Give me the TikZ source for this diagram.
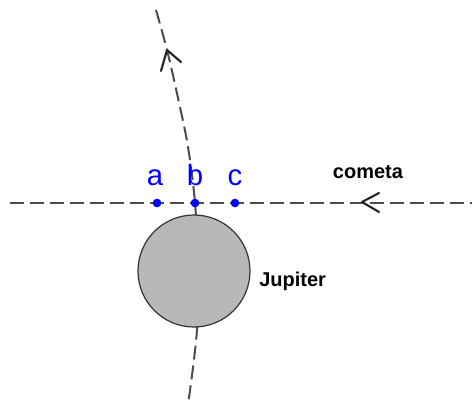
\documentclass[tikz,border=0pt]{standalone}
\usepackage{fontspec}
\setmainfont{Liberation Sans}
\begin{document}
\begin{tikzpicture}[x=0.75pt,y=-0.75pt,
  orbit/.style={draw=black!70,line width=1.5pt,dash pattern=on 10.5pt off 4.5pt},
  chev/.style={draw=black!85,line width=1.6pt,line cap=round,line join=round},
  dotpt/.style={circle,fill=blue,inner sep=0pt,minimum size=6.5pt},
  lbl/.style={text=blue,font=\fontsize{22}{24}\selectfont,inner sep=0pt,anchor=base},
  txtlbl/.style={font=\bfseries\fontsize{15}{17}\selectfont,inner sep=0pt}]
\useasboundingbox (0,0) rectangle (472,405);
% comet path (horizontal)
\coordinate (hl) at (10,203);
\coordinate (hr) at (472,203);
\draw[orbit] (hl) -- (hr);
% Jupiter path (curve)
\draw[orbit] plot[smooth,tension=0.6] coordinates {(156,10) (167,50) (178,98) (188,147) (195,203) (198,265) (197,330) (188,405)};
% Jupiter
\node[circle,draw=black!80,line width=0.9pt,fill=black!28,minimum size=84pt,inner sep=0pt] (jup) at (194,271) {};
\node[txtlbl,anchor=west] (jl) at (259,281) {Jupiter};
\node[txtlbl] (cl) at (368,172) {cometa};
% arrowheads
\coordinate (vt) at (167,50);
\coordinate (va) at (161,71);
\coordinate (vb) at (181,62);
\draw[chev] (va) -- (vt) -- (vb);
\coordinate (ht) at (362,202);
\coordinate (ha) at (379,193);
\coordinate (hb) at (379,212);
\draw[chev] (ha) -- (ht) -- (hb);
% points
\node[dotpt] (pa) at (157,203) {};
\node[dotpt] (pb) at (195,203) {};
\node[dotpt] (pc) at (235,203) {};
\node[lbl] (la) at (155,185) {a};
\node[lbl] (lb) at (195,185) {b};
\node[lbl] (lc) at (235,185) {c};
\end{tikzpicture}
\end{document}
